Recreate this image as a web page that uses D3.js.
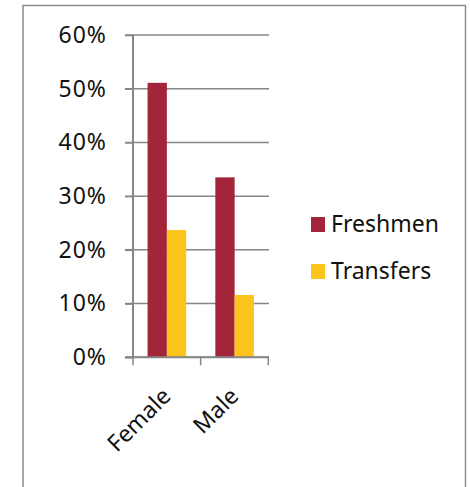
<!DOCTYPE html>
<html>
<head>
<meta charset="utf-8">
<script src="https://cdn.jsdelivr.net/npm/d3@7"></script>
<style>
  body { margin: 0; background: #fff; }
  svg { display: block; }
  svg text { font-family: "Noto Sans", "Open Sans", sans-serif; }
</style>
</head>
<body>
<svg id="chart" width="470" height="487"></svg>
<script>
const categories = ["Female", "Male"];
const seriesNames = ["Freshmen", "Transfers"];
const freshmen = [0.511, 0.335];
const transfers = [0.237, 0.116];
const yTicks = [0, 0.1, 0.2, 0.3, 0.4, 0.5, 0.6];
const colors = ["#a3253a", "#fec41e"];

function makeChart() {
    let svg = d3.select("#chart");
    let values = [freshmen, transfers];

    // outer frame
    svg.append("rect")
        .attr("x", 23)
        .attr("y", 5.5)
        .attr("width", 442.5)
        .attr("height", 500)
        .attr("fill", "none")
        .attr("stroke", "#8c8c8c")
        .attr("stroke-width", 1.5);

    let x_scale = d3.scaleBand()
        .domain(categories)
        .range([133, 268.5])
        .paddingInner(0.43)
        .paddingOuter(0.215);

    let x_inner = d3.scaleBand()
        .domain(seriesNames)
        .range([0, x_scale.bandwidth()]);

    let y_scale = d3.scaleLinear()
        .domain([0, 0.6])
        .range([357.3, 35]);

    // gridlines
    svg.append("g")
        .selectAll("line")
        .data(yTicks)
        .join("line")
        .attr("x1", 125)
        .attr("x2", 269)
        .attr("y1", d => y_scale(d))
        .attr("y2", d => y_scale(d))
        .attr("stroke", "#868686")
        .attr("stroke-width", 1.5);

    // bars
    seriesNames.forEach((s, i) => {
        svg.append("g")
            .selectAll("rect")
            .data(categories)
            .join("rect")
            .attr("x", d => x_scale(d) + x_inner(s))
            .attr("width", x_inner.bandwidth())
            .attr("y", (d, j) => y_scale(values[i][j]))
            .attr("height", (d, j) => y_scale(0) - y_scale(values[i][j]))
            .attr("fill", colors[i]);
    });

    // y axis
    let yAxis = svg.append("g")
        .attr("transform", "translate(133,0)")
        .call(d3.axisLeft(y_scale).tickValues(yTicks).tickFormat(d3.format(".0%")).tickSize(8).tickPadding(18));
    yAxis.select(".domain").attr("stroke", "#868686").attr("stroke-width", 2).attr("d", `M0,${y_scale(0.6)}V${y_scale(0)}`);
    yAxis.selectAll(".tick line").attr("stroke", "#868686").attr("stroke-width", 1.5);
    yAxis.selectAll(".tick text")
        .style("font-size", "23px")
        .style("letter-spacing", "1px")
        .attr("fill", "#111");

    // x axis
    let xAxis = svg.append("g")
        .attr("transform", `translate(0,${y_scale(0)})`)
        .call(d3.axisBottom(x_scale).tickSize(0).tickFormat(""));
    xAxis.select(".domain").attr("stroke", "#868686").attr("stroke-width", 2).attr("d", "M125,0H269");
    let step = x_scale.step();
    let edges = [0, 1, 2].map(k => 133 + k * step * 0.9985);
    xAxis.append("g")
        .selectAll("line")
        .data(edges)
        .join("line")
        .attr("x1", d => d)
        .attr("x2", d => d)
        .attr("y1", 0)
        .attr("y2", 8)
        .attr("stroke", "#868686")
        .attr("stroke-width", 1.5);

    // category labels
    svg.append("g")
        .selectAll("text")
        .data(categories)
        .join("text")
        .attr("transform", d => `translate(${x_scale(d) + x_scale.bandwidth() / 2 - 6},${y_scale(0) + 29}) rotate(-45)`)
        .attr("text-anchor", "end")
        .attr("dy", "0.7em")
        .style("font-size", "23px")
        .attr("fill", "#111")
        .text(d => d);

    // legend
    let legend = svg.append("g")
        .selectAll("g")
        .data(seriesNames)
        .join("g")
        .attr("transform", (d, i) => `translate(311,${217 + i * 47})`);
    legend.append("rect")
        .attr("width", 14)
        .attr("height", 15)
        .attr("fill", (d, i) => colors[i]);
    legend.append("text")
        .attr("x", 20)
        .attr("y", 15)
        .style("font-size", "23px")
        .attr("fill", "#111")
        .text(d => d);
}

makeChart();
</script>
</body>
</html>
